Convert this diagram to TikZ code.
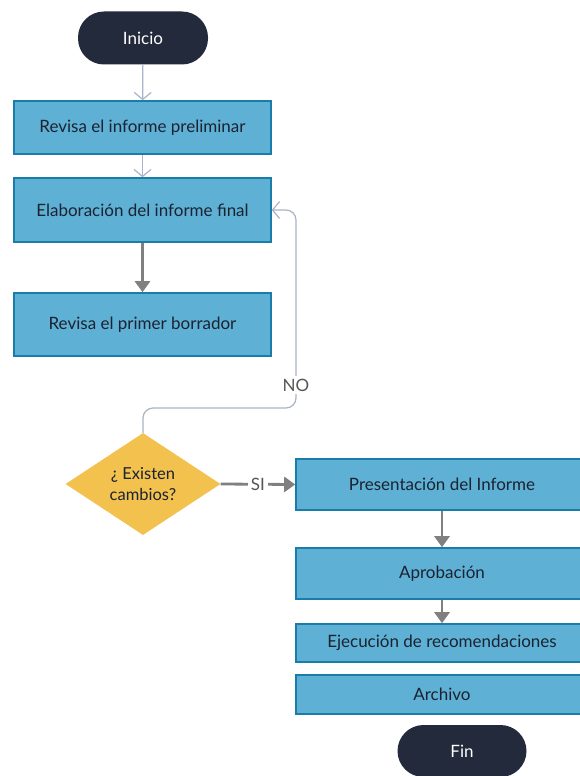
\documentclass[tikz,border=0pt]{standalone}
\usepackage{fontspec}
\setmainfont{Lato}
\usetikzlibrary{shapes.geometric,arrows.meta}
\definecolor{boxfill}{HTML}{5EB0D5}
\definecolor{boxline}{HTML}{1A7CAB}
\definecolor{termfill}{HTML}{222A3B}
\definecolor{diafill}{HTML}{F2C14E}
\definecolor{heavyline}{HTML}{808080}
\definecolor{lightline}{HTML}{A9B4C7}
\definecolor{lbltext}{HTML}{555555}
\definecolor{boxtext}{HTML}{1B2230}
\begin{document}
\begin{tikzpicture}[x=1pt,y=-1pt,
  stepbox/.style={draw=boxline,fill=boxfill,line width=1.6pt,minimum width=257pt,text=boxtext,font=\fontsize{17}{20}\selectfont,inner sep=0pt},
  rbox/.style={stepbox,minimum width=292pt},
  term/.style={fill=termfill,rounded corners=26pt,text=white,font=\fontsize{17}{20}\selectfont,inner sep=0pt},
  decision/.style={diamond,fill=diafill,minimum width=155pt,minimum height=102pt,aspect=1.52,inner sep=0pt,text=boxtext,align=center,font=\fontsize{16.5}{21}\selectfont},
  light/.style={draw=lightline,line width=1.2pt,-{Straight Barb[length=7pt,width=17pt]}},
  heavy/.style={draw=heavyline,line width=2.8pt,-{Triangle[length=11pt,width=15pt]}},
  lbl/.style={fill=white,text=lbltext,font=\fontsize{17}{20}\selectfont,inner sep=3pt}
]
\useasboundingbox (0,0) rectangle (579,776);
\fill[white] (0,0) rectangle (579,776);

\node[term,minimum width=130pt,minimum height=53pt] (ini) at (143,38) {Inicio};
\node[stepbox,minimum height=53pt] (b1) at (142.5,127.5) {Revisa el informe preliminar};
\node[stepbox,minimum height=64pt] (b2) at (142.5,210) {Elaboración del informe final};
\node[stepbox,minimum height=63pt] (b3) at (142.5,324.5) {Revisa el primer borrador};
\node[decision] (dia) at (143,484) {¿ Existen\\cambios?};
\node[rbox,minimum height=51pt] (p1) at (442,484.5) {Presentación del Informe};
\node[rbox,minimum height=51pt] (ap) at (442,573.5) {Aprobación};
\node[rbox,minimum height=38pt] (ej) at (442,643) {Ejecución de recomendaciones};
\node[rbox,minimum height=39pt] (ar) at (442,694.5) {Archivo};
\node[term,minimum width=129pt,minimum height=52pt] (fin) at (462,751) {Fin};

\draw[light] (ini) -- (b1);
\draw[light] (b1) -- (b2);
\draw[heavy] (b2) -- (b3);

\coordinate (c1) at (143,408);
\coordinate (c2) at (296,408);
\coordinate (c3) at (296,210);
\draw[light,rounded corners=10pt] (dia.north) -- (c1) -- (c2) -- (c3) -- (b2.east);
\node[lbl] (no) at (296,385) {NO};

\draw[heavy] (dia.east) -- node[lbl] (si) {SI} (p1.west);
\draw[heavy] (p1) -- (ap);
\draw[heavy] (ap) -- (ej);
\end{tikzpicture}
\end{document}
